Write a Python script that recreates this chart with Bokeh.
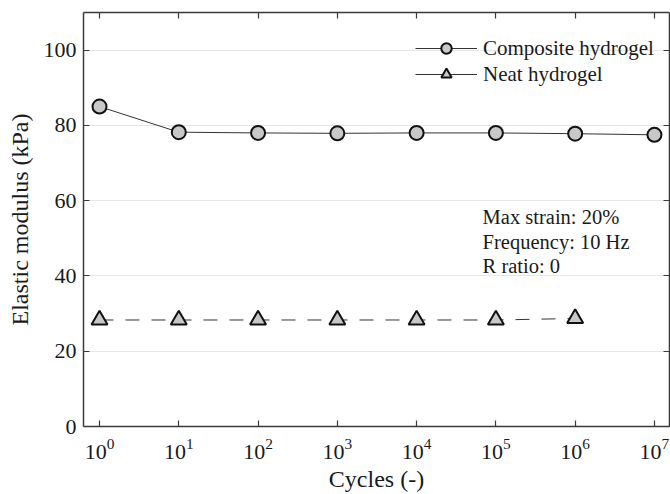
import numpy as np
from bokeh.plotting import figure
from bokeh.models import (Range1d, FixedTicker, LogAxis, LinearAxis, Legend, LegendItem, Label)
from bokeh.embed import file_html
from bokeh.resources import INLINE

# ---- data ----
cycles = [1, 10, 100, 1000, 10000, 100000, 1000000, 10000000]
composite = [85.0, 78.2, 78.0, 77.9, 78.0, 78.0, 77.8, 77.5]
neat_cycles = [1, 10, 100, 1000, 10000, 100000, 1000000]
neat = [28.3, 28.3, 28.3, 28.3, 28.3, 28.3, 28.7]
y_ticks = [0, 20, 40, 60, 80, 100]
series_names = ["Composite hydrogel", "Neat hydrogel"]
notes = ["Max strain: 20%", "Frequency: 10 Hz", "R ratio: 0"]

FONT = "Liberation Serif"
TXT = "#1a1a1a"
AX = "#3a3a3a"

p = figure(width=670, height=494, output_backend="svg", toolbar_location=None,
           x_axis_type="log",
           x_range=Range1d(10 ** -0.202, 10 ** 7.19), y_range=Range1d(0, 110),
           min_border_left=83, min_border_right=1, min_border_top=12, min_border_bottom=67)
p.outline_line_color = None
p.background_fill_color = "white"
p.border_fill_color = "white"

# grid
p.xgrid.visible = False
p.ygrid.grid_line_color = "#e6e6e6"
p.ygrid.grid_line_width = 1
p.ygrid.ticker = FixedTicker(ticks=y_ticks[1:])

# bottom axis (log axis draws 10 with superscript exponent)
xa = p.xaxis[0]
xa.ticker = FixedTicker(ticks=cycles)
xa.axis_label = "Cycles (-)"
# left axis
ya = p.yaxis[0]
ya.ticker = FixedTicker(ticks=y_ticks)
ya.axis_label = "Elastic modulus (kPa)"

for ax in (xa, ya):
    ax.major_tick_in = 6
    ax.major_tick_out = 0
    ax.minor_tick_in = 0
    ax.minor_tick_out = 0
    ax.axis_line_color = AX
    ax.axis_line_width = 1.5
    ax.major_tick_line_color = AX
    ax.major_tick_line_width = 1.2
    ax.major_label_text_font = FONT
    ax.major_label_text_font_size = "22px"
    ax.major_label_text_color = TXT
    ax.axis_label_text_font = FONT
    ax.axis_label_text_font_size = "24px"
    ax.axis_label_text_font_style = "normal"
    ax.axis_label_text_color = TXT

xa.major_label_standoff = 12
xa.axis_label_standoff = 4
ya.major_label_standoff = 7
ya.axis_label_standoff = 8

# top and right axes (ticks only)
top = LogAxis(ticker=FixedTicker(ticks=cycles))
right = LinearAxis(ticker=FixedTicker(ticks=y_ticks))
for ax in (top, right):
    ax.major_tick_in = 6
    ax.major_tick_out = 0
    ax.minor_tick_in = 0
    ax.minor_tick_out = 0
    ax.axis_line_color = AX
    ax.axis_line_width = 1.5
    ax.major_tick_line_color = AX
    ax.major_tick_line_width = 1.2
    ax.major_label_text_font_size = "1px"
    ax.major_label_text_color = None
    ax.major_label_standoff = 0
p.add_layout(top, "above")
p.add_layout(right, "right")

# series
l1 = p.line(cycles, composite, line_color="#333333", line_width=1)
m1 = p.scatter(cycles, composite, marker="circle", size=14, fill_color="#c8c8c8",
               line_color="#111111", line_width=2)
l2 = p.line(neat_cycles, neat, line_color="#333333", line_width=1, line_dash="14 12")
m2 = p.scatter(neat_cycles, neat, marker="triangle", size=16, fill_color="#c8c8c8",
               line_color="#111111", line_width=2)
# solid line sample for the legend entry of the neat hydrogel (draws nothing in the plot)
lg2 = p.line(x=neat_cycles, y=[np.nan] * len(neat_cycles), line_color="#333333", line_width=1)

legend = Legend(items=[LegendItem(label=series_names[0], renderers=[l1, m1]),
                       LegendItem(label=series_names[1], renderers=[lg2, m2])],
                location=(332, 339))
legend.label_text_font = FONT
legend.label_text_font_size = "21px"
legend.label_text_color = TXT
legend.glyph_width = 62
legend.glyph_height = 26
legend.label_height = 20
legend.label_standoff = 6
legend.spacing = -1
legend.padding = 0
legend.margin = 0
legend.border_line_color = None
legend.background_fill_alpha = 0
p.add_layout(legend)

# annotation
for txt, yv in zip(notes, [55.7, 49.0, 42.7]):
    p.add_layout(Label(x=6.8e4, y=yv, text=txt, text_font=FONT, text_font_size="20.5px",
                       text_color=TXT, text_baseline="middle", text_align="left"))

open("out.html", "w").write(file_html(p, INLINE))
